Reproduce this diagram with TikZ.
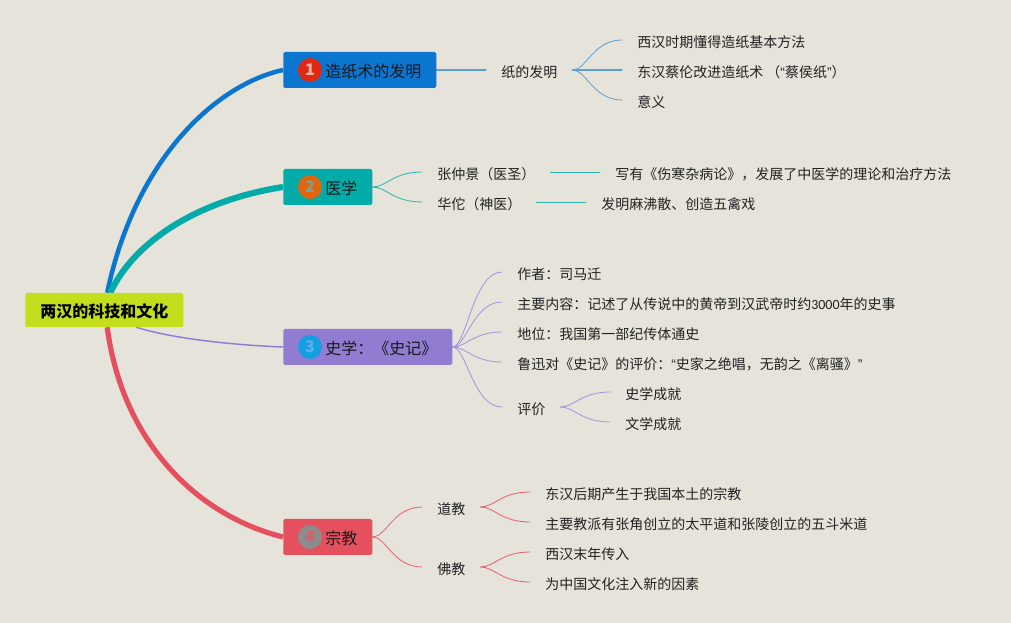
\documentclass[tikz,border=0pt]{standalone}
\usepackage{fontspec}
\setmainfont{Noto Sans CJK SC}
\newfontfamily\quotefont{Liberation Sans}
\newfontfamily\digitfont{Carlito}
\usetikzlibrary{backgrounds}
\definecolor{bgc}{HTML}{E6E3DB}
\definecolor{rootc}{HTML}{C3DE1C}
\definecolor{bluec}{HTML}{0B76D0}
\definecolor{tealc}{HTML}{00ABA8}
\definecolor{purpc}{HTML}{917CD2}
\definecolor{redc}{HTML}{E5505F}
\definecolor{bluel}{HTML}{5C9FD6}
\definecolor{teall}{HTML}{2AB3B0}
\definecolor{purpl}{HTML}{A293DB}
\definecolor{redl}{HTML}{E5606F}
\definecolor{txt}{HTML}{222222}
\definecolor{bad1}{HTML}{DE2A12}
\definecolor{bad2}{HTML}{E0650F}
\definecolor{bad3}{HTML}{149FE0}
\definecolor{bad4}{HTML}{8C8C8C}
\definecolor{dig1}{HTML}{EDB4AC}
\definecolor{dig2}{HTML}{7FA08E}
\definecolor{dig3}{HTML}{62AEEA}
\definecolor{dig4}{HTML}{D4606E}
\tikzset{
  x=0.75pt,y=-0.75pt,
  leaf/.style={anchor=west,inner xsep=11.25pt,inner ysep=0pt,text height=12pt,text depth=1pt,font=\fontsize{10.5pt}{12pt}\selectfont,text=txt},
  topic/.style={anchor=west,rounded corners=1.2pt,minimum height=27pt,inner xsep=0pt,inner ysep=0pt,text height=13.5pt,text depth=1.5pt,font=\fontsize{12pt}{14pt}\selectfont,text=black!90},
  badge/.style={circle,minimum size=18pt,inner sep=0pt,font=\fontsize{12pt}{14pt}\selectfont\bfseries},
  rootbox/.style={anchor=west,fill=rootc,rounded corners=1.5pt,minimum width=118.5pt,minimum height=25.5pt,inner sep=0pt,text height=13pt,text depth=1.5pt,font=\fontsize{12pt}{14pt}\selectfont\bfseries,text=black},
  twig/.style={line width=0.6pt,line cap=round},
  limb/.style={line cap=butt}
}
\newcommand{\twigto}[3]{\draw[twig,#3] (#1.east) .. controls +(14,0) and +(-29,0) .. (#2.west);}
\newcommand{\openq}{{\quotefont “}}
\newcommand{\closeq}{{\quotefont ”}}
\begin{document}
\begin{tikzpicture}
\useasboundingbox (0,0) rectangle (1011,623);

\node[rootbox] (root) at (25,310) {两汉的科技和文化};

\node[topic,fill=bluec] (t1) at (283,70) {\hspace*{31.5pt}造纸术的发明\hspace*{11.25pt}};
\node[topic,fill=tealc] (t2) at (283,187) {\hspace*{31.5pt}医学\hspace*{11.25pt}};
\node[topic,fill=purpc] (t3) at (283,347) {\hspace*{31.5pt}史学：《史记》\hspace*{11.25pt}};
\node[topic,fill=redc] (t4) at (283,537) {\hspace*{31.5pt}宗教\hspace*{11.25pt}};

\node[badge,fill=bad1,text=dig1] (b1) at (310,70) {1};
\node[badge,fill=bad2,text=dig2] (b2) at (310,187) {2};
\node[badge,fill=bad3,text=dig3] (b3) at (310,347) {3};
\node[badge,fill=bad4,text=dig4] (b4) at (310,537) {4};

\node[leaf] (a0) at (486,70) {纸的发明};
\node[leaf] (a1) at (622,40) {西汉时期懂得造纸基本方法};
\node[leaf] (a2) at (622,70) {东汉蔡伦改进造纸术 （\openq{}蔡侯纸\closeq{}）};
\node[leaf] (a3) at (622,100) {意义};

\node[leaf] (m1) at (422,172) {张仲景（医圣）};
\node[leaf] (m2) at (422,202) {华佗（神医）};
\node[leaf] (m3) at (600,172) {写有《伤寒杂病论》，发展了中医学的理论和治疗方法};
\node[leaf] (m4) at (586,202) {发明麻沸散、创造五禽戏};

\node[leaf] (h1) at (502,272) {作者：司马迁};
\node[leaf] (h2) at (502,302) {主要内容：记述了从传说中的黄帝到汉武帝时约{\digitfont 3000}年的史事};
\node[leaf] (h3) at (502,332) {地位：我国第一部纪传体通史};
\node[leaf] (h4) at (502,362) {鲁迅对《史记》的评价：\openq{}史家之绝唱，无韵之《离骚》\closeq{}};
\node[leaf] (h5) at (502,407) {评价};
\node[leaf] (h6) at (610,392) {史学成就};
\node[leaf] (h7) at (610,422) {文学成就};

\node[leaf] (r1) at (422,507) {道教};
\node[leaf] (r2) at (422,567) {佛教};
\node[leaf] (r3) at (530,492) {东汉后期产生于我国本土的宗教};
\node[leaf] (r4) at (530,522) {主要教派有张角创立的太平道和张陵创立的五斗米道};
\node[leaf] (r5) at (530,552) {西汉末年传入};
\node[leaf] (r6) at (530,582) {为中国文化注入新的因素};

\begin{pgfonlayer}{background}
\fill[bgc] (0,0) rectangle (1011,623);
\draw[limb,redc,line width=3.9pt] ([xshift=2.2pt]root.south) .. controls (122,440) and (195,515) .. (t4.west);
\draw[limb,purpc,line width=1.1pt] ([xshift=24pt]root.south) .. controls (170,338) and (230,345) .. (t3.west);
\draw[limb,bluec,line width=3.4pt] ([xshift=2.2pt]root.north) .. controls (135,160) and (215,85) .. (t1.west);
\draw[limb,tealc,line width=4.6pt] ([xshift=4.5pt]root.north) .. controls (135,240) and (200,200) .. (t2.west);

\draw[twig,bluel,line width=0.9pt] (t1.east) -- (a0.west);
\twigto{a0}{a1}{bluel}
\draw[twig,bluel,line width=0.9pt] (a0.east) -- (a2.west);
\twigto{a0}{a3}{bluel}

\twigto{t2}{m1}{teall}
\twigto{t2}{m2}{teall}
\draw[twig,teall] (m1.east) -- (m3.west);
\draw[twig,teall] (m2.east) -- (m4.west);

\twigto{t3}{h1}{purpl}
\twigto{t3}{h2}{purpl}
\twigto{t3}{h3}{purpl}
\twigto{t3}{h4}{purpl}
\twigto{t3}{h5}{purpl}
\twigto{h5}{h6}{purpl}
\twigto{h5}{h7}{purpl}

\twigto{t4}{r1}{redl}
\twigto{t4}{r2}{redl}
\twigto{r1}{r3}{redl}
\twigto{r1}{r4}{redl}
\twigto{r2}{r5}{redl}
\twigto{r2}{r6}{redl}
\end{pgfonlayer}
\end{tikzpicture}
\end{document}
